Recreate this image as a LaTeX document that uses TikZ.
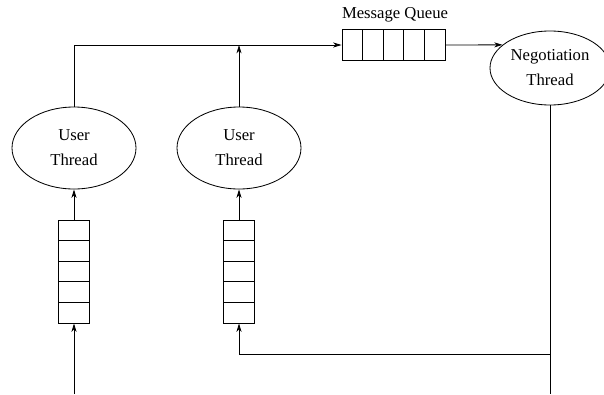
\documentclass[tikz,border=0pt]{standalone}
\usepackage{fontspec}
\setmainfont{Liberation Serif}
\usepackage{tikz}
\usetikzlibrary{shapes.geometric, arrows.meta, positioning, calc}
\tikzstyle{thread} = [ellipse, draw, line width=0.5pt, inner sep=0pt, align=center, font=\fontsize{10}{15}\selectfont]
\tikzstyle{vqueue} = [rectangle, draw, line width=0.5pt, minimum width=18.6pt, minimum height=61.8pt, inner sep=0pt]
\tikzstyle{hqueue} = [rectangle, draw, line width=0.5pt, minimum width=61.8pt, minimum height=18.6pt, inner sep=0pt]
\tikzstyle{arrow} = [-{Stealth[length=5pt, width=3pt, inset=1.5pt]}, line width=0.5pt]

\begin{document}
\begin{tikzpicture}[x=0.6pt, y=-0.6pt]
    \useasboundingbox (0,0) rectangle (604,394);

    % Threads
    \node[thread, minimum width=74.4pt, minimum height=49.2pt] (ut1) at (74, 148) {User\\Thread};
    \node[thread, minimum width=74.4pt, minimum height=49.2pt] (ut2) at (239, 148) {User\\Thread};
    \node[thread, minimum width=72pt, minimum height=44.4pt] (neg) at (550, 68) {Negotiation\\Thread};

    % Per-thread input queues
    \node[vqueue] (q1) at (74, 271.5) {};
    \node[vqueue] (q2) at (239, 271.5) {};

    % Message queue
    \node[hqueue] (mq) at (393.5, 45) {};
    \node[font=\fontsize{10}{12}\selectfont] (mqlabel) at (395, 15) {Message Queue};

    % Queue cells
    \foreach \q in {q1, q2}
        \foreach \i in {1,...,4}
            \draw[line width=0.5pt] ($(\q.north west)!\i/5!(\q.south west)$) -- ($(\q.north east)!\i/5!(\q.south east)$);
    \foreach \i in {1,...,4}
        \draw[line width=0.5pt] ($(mq.north west)!\i/5!(mq.north east)$) -- ($(mq.south west)!\i/5!(mq.south east)$);

    % Loose ends
    \coordinate (in1) at (74, 394);
    \coordinate (join) at (239, 45);
    \coordinate (fb) at (550, 354);
    \coordinate (nend) at (550, 394);

    % Arrows
    \draw[arrow] (in1) -- (q1.south);
    \draw[arrow] (q1) -- (ut1);
    \draw[arrow] (q2) -- (ut2);
    \draw[arrow] (ut1.north) |- (mq.west);
    \draw[arrow] (ut2.north) -- (join);
    \draw[arrow] (mq.east) -- (neg.154);
    \draw[line width=0.5pt] (neg.south) -- (nend);
    \draw[arrow] (fb) -| (q2.south);
\end{tikzpicture}
\end{document}
